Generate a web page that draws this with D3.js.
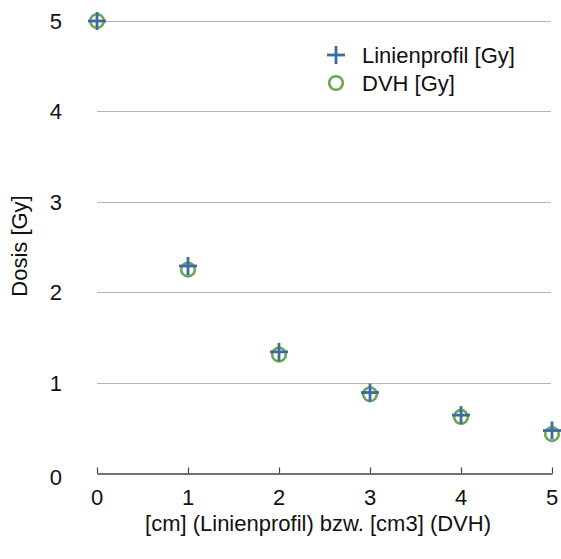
<!DOCTYPE html>
<html>
<head>
<meta charset="utf-8">
<script src="https://cdn.jsdelivr.net/npm/d3@7/dist/d3.min.js"></script>
<style>
  html, body { margin: 0; padding: 0; background: #fff; }
  svg { display: block; font-family: "Liberation Sans", Arial, Helvetica, sans-serif; }
</style>
</head>
<body>
<svg id="chart" width="561" height="559"></svg>
<script>
// Abstand (cm bzw. cm3) und gemessene Dosis
const positions = [0, 1, 2, 3, 4, 5];
const linienprofil = [5.0, 2.29, 1.34, 0.89, 0.64, 0.47];
const dvh = [5.0, 2.25, 1.31, 0.87, 0.62, 0.43];
const xTicks = [0, 1, 2, 3, 4, 5];
const yTicks = [0, 1, 2, 3, 4, 5];
const seriesNames = ["Linienprofil [Gy]", "DVH [Gy]"];

const blue = "#3d6aa5";
const green = "#6aa84f";
const fontSize = 22;

const svg = d3.select("#chart");
const x = d3.scaleLinear().domain([0, 5]).range([97, 552]);
const y = d3.scaleLinear().domain([0, 5]).range([473, 21]);

// horizontal grid lines
svg.append("g")
  .selectAll("line")
  .data(yTicks.filter(d => d > 0))
  .join("line")
  .attr("x1", x(0)).attr("x2", x(5) - 1)
  .attr("y1", d => Math.round(y(d)) + 0.5).attr("y2", d => Math.round(y(d)) + 0.5)
  .attr("stroke", "#b4b4b4").attr("stroke-width", 1);

// x axis: line with upward ticks
const xAxis = svg.append("g")
  .attr("transform", `translate(0,${Math.round(y(0)) + 0.5})`)
  .call(d3.axisTop(x).tickValues(xTicks).tickSize(6).tickSizeOuter(0).tickFormat(""));
xAxis.select(".domain").attr("stroke", "#444").attr("stroke-width", 1.5);
xAxis.selectAll(".tick line").attr("stroke", "#444").attr("stroke-width", 1.2);

// x tick labels
svg.append("g")
  .selectAll("text")
  .data(xTicks)
  .join("text")
  .attr("x", d => x(d))
  .attr("y", 505)
  .attr("text-anchor", "middle")
  .attr("font-size", fontSize)
  .attr("fill", "#111")
  .text(d => d);

// y tick labels
svg.append("g")
  .selectAll("text")
  .data(yTicks)
  .join("text")
  .attr("x", 62)
  .attr("y", d => y(d) + 8 + (d === 0 ? 4 : 0))
  .attr("text-anchor", "end")
  .attr("font-size", fontSize)
  .attr("fill", "#111")
  .text(d => d);

// axis titles
svg.append("text")
  .attr("transform", `translate(27,${246}) rotate(-90)`)
  .attr("text-anchor", "middle")
  .attr("font-size", fontSize)
  .attr("fill", "#111")
  .text("Dosis [Gy]");

svg.append("text")
  .attr("x", 318)
  .attr("y", 531)
  .attr("text-anchor", "middle")
  .attr("font-size", fontSize)
  .attr("fill", "#111")
  .text("[cm] (Linienprofil) bzw. [cm3] (DVH)");

// marker helpers
function drawCircles(g, cx, cy) {
  g.append("circle").attr("cx", cx).attr("cy", cy).attr("r", 6.8)
    .attr("fill", "none").attr("stroke", green).attr("stroke-width", 2.6);
}
function drawCross(g, cx, cy) {
  const a = 9;
  g.append("line").attr("x1", cx - a).attr("x2", cx + a).attr("y1", cy).attr("y2", cy)
    .attr("stroke", blue).attr("stroke-width", 2.8);
  g.append("line").attr("x1", cx).attr("x2", cx).attr("y1", cy - a).attr("y2", cy + a)
    .attr("stroke", blue).attr("stroke-width", 2.8);
}

// DVH circles
const gDvh = svg.append("g");
positions.forEach((p, i) => drawCircles(gDvh, x(p), y(dvh[i])));

// Linienprofil crosses
const gLp = svg.append("g");
positions.forEach((p, i) => drawCross(gLp, x(p), y(linienprofil[i])));

// legend
const legend = svg.append("g");
drawCross(legend, 336, 55);
drawCircles(legend, 336, 83);
legend.selectAll("text")
  .data(seriesNames)
  .join("text")
  .attr("x", 362)
  .attr("y", (d, i) => 63 + i * 28)
  .attr("font-size", fontSize)
  .attr("fill", "#111")
  .text(d => d);
</script>
</body>
</html>
